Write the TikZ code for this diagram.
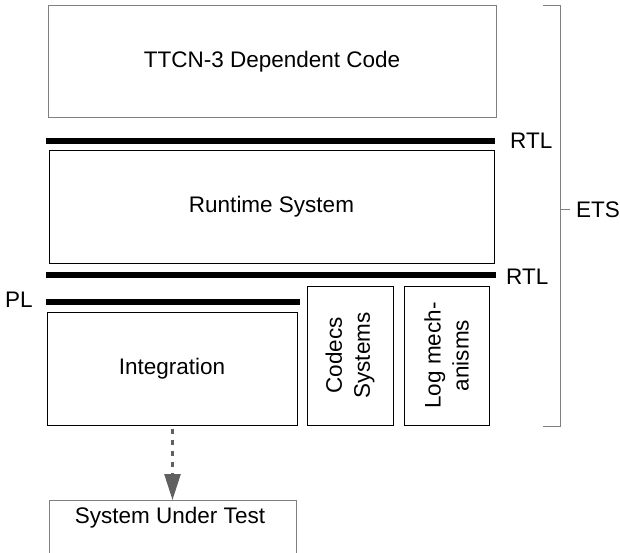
\documentclass[tikz,border=0pt]{standalone}
\usepackage{fontspec}
\setmainfont{Liberation Sans}
\usetikzlibrary{arrows.meta}
\definecolor{framegray}{HTML}{808080}
\definecolor{arrowgray}{HTML}{606060}
\tikzset{
  layer/.style={draw=black, line width=1pt, inner sep=0pt, align=center},
  softlayer/.style={layer, draw=framegray},
  bar/.style={line width=6pt},
  tag/.style={inner sep=0pt, anchor=west},
  rot/.style={rotate=90, align=center}
}
\begin{document}
\begin{tikzpicture}[x=1pt, y=-1pt, font=\fontsize{22.5}{28}\selectfont]
\useasboundingbox (0,0) rectangle (620,553);

% upper layers
\node[softlayer, minimum width=448, minimum height=112] (ttcn) at (272,62) {TTCN-3 Dependent Code};
\draw[bar] (46,141) -- (495,141);
\node[tag] (rtl1) at (510,141) {RTL};

\node[layer, minimum width=445, minimum height=112] (rts) at (271.5,207) {Runtime System};
\draw[bar] (46,275) -- (496,275);
\node[tag] (rtl2) at (506,277) {RTL};

% platform layer and lower blocks
\node[tag] (pl) at (5,300) {PL};
\draw[bar] (46,302) -- (300,302);
\node[layer, minimum width=250, minimum height=113] (integ) at (172,368.5) {Integration};
\node[layer, minimum width=86, minimum height=139] (codecs) at (350,355.5) {};
\node[rot] at (codecs.center) {Codecs\\Systems};
\node[layer, minimum width=85, minimum height=139] (logm) at (446.5,355.5) {};
\node[rot] at (logm.center) {Log mech-\\anisms};

% system under test, open towards the lower edge
\begin{scope}
  \clip (0,0) rectangle (620,553);
  \node[softlayer, minimum width=247, minimum height=80, anchor=north] (sut) at (172.5,500) {};
\end{scope}
\node[inner sep=0pt] (suttext) at (170,518) {System Under Test};

\draw[arrowgray, line width=2.5pt, dash pattern=on 5pt off 6pt,
      -{Triangle[length=26pt, width=16pt]}] (integ.south -| sut.north) ++(0,3) coordinate (a0)
      (a0) -- (sut.north);

% bracket spanning the executable test suite
\coordinate (bt) at (560,6);
\coordinate (bb) at (560,426);
\draw[framegray, line width=1pt] (543,6) -- (bt) -- (bb) -- (543,426);
\draw[framegray, line width=1pt] (560,210) -- (570,210);
\node[tag] (ets) at (576,210) {ETS};
\end{tikzpicture}
\end{document}
